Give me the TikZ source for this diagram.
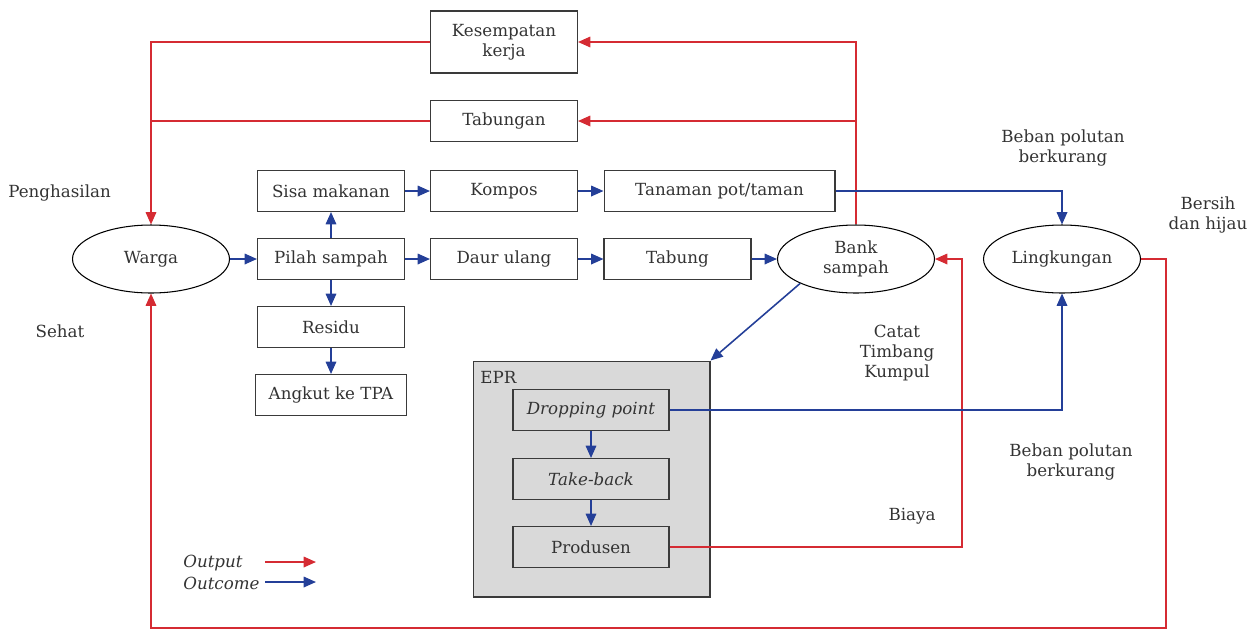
\documentclass[tikz,border=0pt]{standalone}
\usepackage{fontspec}
\setmainfont{DejaVu Serif}
\usetikzlibrary{arrows.meta,shapes.geometric}
\definecolor{txt}{HTML}{333333}
\definecolor{redc}{HTML}{D52B33}
\definecolor{bluec}{HTML}{243F98}
\definecolor{eprfill}{HTML}{D9D9D9}
\definecolor{edge}{HTML}{3A3A3A}
\begin{document}
\begin{tikzpicture}[x=0.02cm,y=-0.02cm,
  every node/.style={font=\fontsize{9.5}{11.5}\selectfont, text=txt, align=center},
  box/.style={draw=edge, line width=0.6pt, rectangle, inner sep=0pt, minimum width=2.94cm, minimum height=0.82cm},
  oval/.style={draw=black, line width=0.6pt, ellipse, inner sep=0pt, minimum width=3.14cm, minimum height=1.36cm},
  lbl/.style={inner sep=0pt},
  redline/.style={draw=redc, line width=0.9pt},
  blueline/.style={draw=bluec, line width=0.9pt},
  redarrow/.style={redline, -{Triangle[length=7pt,width=6pt]}},
  bluearrow/.style={blueline, -{Triangle[length=7pt,width=6pt]}}
]
\useasboundingbox (0,0) rectangle (1254,630);
% EPR container
\node[draw=edge, fill=eprfill, line width=0.6pt, rectangle, inner sep=0pt, minimum width=4.74cm, minimum height=4.72cm] (epr) at (591.5,479) {};
\node[lbl, anchor=west] (eprl) at (480,377) {EPR};
% boxes
\node[box, minimum height=1.24cm] (kes) at (504,42) {Kesempatan\\kerja};
\node[box] (tab) at (504,121) {Tabungan};
\node[box] (sisa) at (331,191) {Sisa makanan};
\node[box] (komp) at (504,191) {Kompos};
\node[box, minimum width=4.62cm] (tan) at (719.5,191) {Tanaman pot/taman};
\node[box] (pilah) at (331,259) {Pilah sampah};
\node[box] (daur) at (504,259) {Daur ulang};
\node[box] (tbg) at (677.5,259) {Tabung};
\node[box] (res) at (331,327) {Residu};
\node[box, minimum width=3.02cm] (tpa) at (331,395) {Angkut ke TPA};
\node[box, fill=eprfill, minimum width=3.12cm] (drop) at (591,410) {\itshape Dropping point};
\node[box, fill=eprfill, minimum width=3.12cm] (take) at (591,479) {\itshape Take-back};
\node[box, fill=eprfill, minimum width=3.12cm] (prod) at (591,547) {Produsen};
% ellipses
\node[oval] (warga) at (151,259) {Warga};
\node[oval] (bank) at (856,259) {Bank\\sampah};
\node[oval] (ling) at (1062,259) {Lingkungan};
% labels
\node[lbl, anchor=west] (peng) at (8,193) {Penghasilan};
\node[lbl] (sehat) at (60,331) {Sehat};
\node[lbl] (beb1) at (1063,148) {Beban polutan\\berkurang};
\node[lbl] (bers) at (1208,215) {Bersih\\dan hijau};
\node[lbl] (catat) at (897,353) {Catat\\Timbang\\Kumpul};
\node[lbl] (beb2) at (1071,462) {Beban polutan\\berkurang};
\node[lbl] (biaya) at (912,516) {Biaya};
% legend
\node[lbl, anchor=west] (lout) at (183,563) {\itshape Output};
\node[lbl, anchor=west] (linc) at (183,583) {\itshape Outcome};
\coordinate (lo1) at (265,562); \coordinate (lo2) at (316,562);
\coordinate (lc1) at (265,582); \coordinate (lc2) at (316,582);
\draw[redarrow] (lo1) -- (lo2);
\draw[bluearrow] (lc1) -- (lc2);
% red connectors
\draw[redarrow] (bank.north) |- (kes.east);
\draw[redarrow] (bank.north |- tab.east) -- (tab.east);
\draw[redarrow] (kes.west) -| (warga.north);
\draw[redline] (tab.west) -- (tab.west -| warga.north);
\coordinate (c1) at (1166,628);
\draw[redarrow] (ling.east) -| (c1) -| (warga.south);
\coordinate (c2) at (962,0);
\draw[redarrow] (prod.east) -| (c2 |- bank.east) -- (bank.east);
% blue connectors
\draw[bluearrow] (warga.east) -- (pilah.west);
\draw[bluearrow] (pilah.north) -- (sisa.south);
\draw[bluearrow] (pilah.south) -- (res.north);
\draw[bluearrow] (res.south) -- (tpa.north);
\draw[bluearrow] (sisa.east) -- (komp.west);
\draw[bluearrow] (komp.east) -- (tan.west);
\draw[bluearrow] (pilah.east) -- (daur.west);
\draw[bluearrow] (daur.east) -- (tbg.west);
\draw[bluearrow] (tbg.east) -- (bank.west);
\draw[bluearrow] (tan.east) -| (ling.north);
\draw[bluearrow] (bank.south west) -- (epr.north east);
\draw[bluearrow] (drop.east) -| (ling.south);
\draw[bluearrow] (drop.south) -- (take.north);
\draw[bluearrow] (take.south) -- (prod.north);
\end{tikzpicture}
\end{document}
